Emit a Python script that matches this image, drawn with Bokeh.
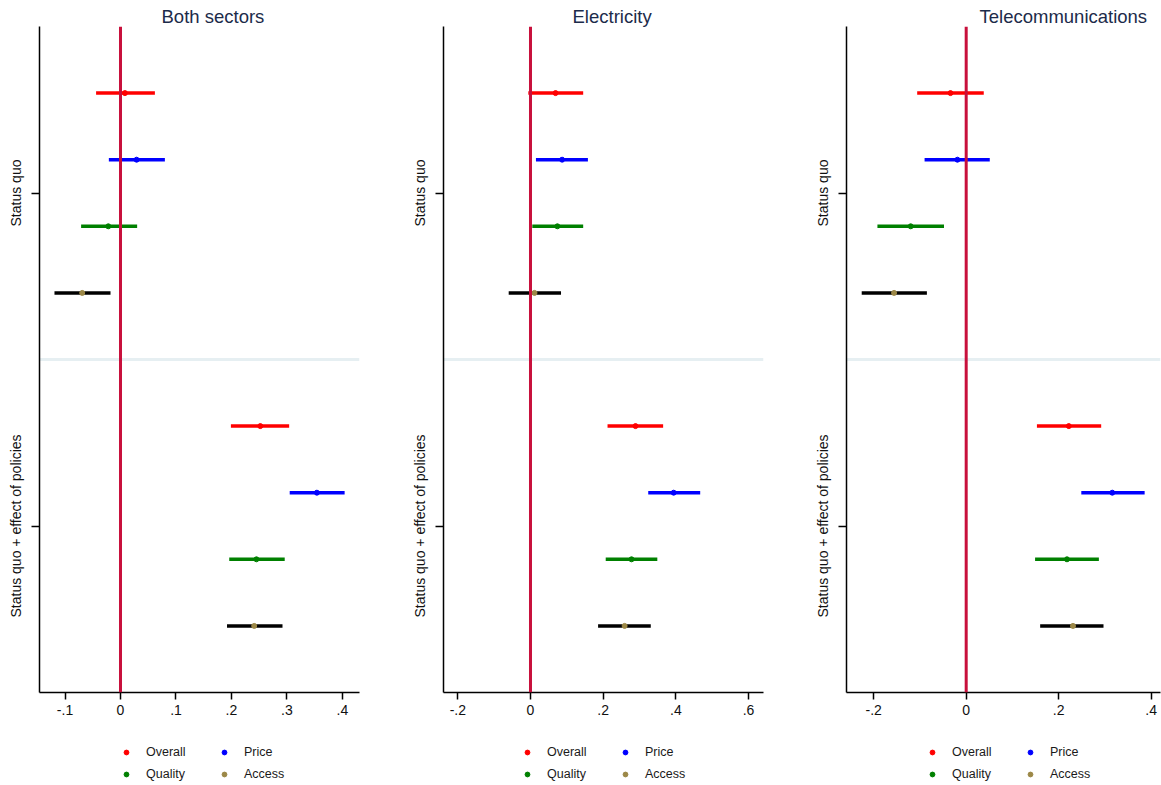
from bokeh.plotting import figure
from bokeh.layouts import row, column
from bokeh.models import Range1d, FixedTicker, Span, Legend, LegendItem
from bokeh.embed import file_html
from bokeh.resources import INLINE

FONT = "Liberation Sans"

# ---- data ----
categories = ["Overall", "Price", "Quality", "Access"]
groups = ["Status quo", "Status quo + effect of policies"]
panel_titles = ["Both sectors", "Electricity", "Telecommunications"]

# order: Status quo (Overall, Price, Quality, Access), then Status quo + effect of policies
both_est = [0.008, 0.029, -0.022, -0.069, 0.252, 0.354, 0.245, 0.241]
both_lo = [-0.044, -0.021, -0.071, -0.119, 0.199, 0.305, 0.196, 0.192]
both_hi = [0.062, 0.080, 0.030, -0.018, 0.304, 0.404, 0.296, 0.292]

elec_est = [0.069, 0.087, 0.074, 0.011, 0.289, 0.394, 0.278, 0.259]
elec_lo = [-0.006, 0.015, 0.005, -0.060, 0.212, 0.324, 0.207, 0.186]
elec_hi = [0.145, 0.158, 0.145, 0.084, 0.365, 0.467, 0.349, 0.331]

tel_est = [-0.034, -0.019, -0.120, -0.156, 0.222, 0.316, 0.218, 0.231]
tel_lo = [-0.106, -0.090, -0.192, -0.226, 0.153, 0.249, 0.149, 0.160]
tel_hi = [0.038, 0.051, -0.048, -0.085, 0.292, 0.386, 0.287, 0.297]

both_ticks = [-0.1, 0.0, 0.1, 0.2, 0.3, 0.4]
both_tick_labels = ["-.1", "0", ".1", ".2", ".3", ".4"]
elec_ticks = [-0.2, 0.0, 0.2, 0.4, 0.6]
elec_tick_labels = ["-.2", "0", ".2", ".4", ".6"]
tel_ticks = [-0.2, 0.0, 0.2, 0.4]
tel_tick_labels = ["-.2", "0", ".2", ".4"]

line_colors = ["#ff0000", "#0000ff", "#008000", "#000000"]
point_colors = ["#ff0000", "#0000ff", "#008000", "#9c8847"]

MAIN_H = 730
LEG_H = 55


def make_panel(title, est, lo, hi, xr, ticks, tick_labels, width, left, right,
               title_offset, legend_x):
    p = figure(width=width, height=MAIN_H, x_range=Range1d(*xr),
               y_range=Range1d(10, 0), output_backend="svg",
               toolbar_location=None, min_border_left=left,
               min_border_right=right, min_border_top=26,
               min_border_bottom=MAIN_H - 692)
    p.outline_line_color = None
    p.grid.visible = False
    p.background_fill_color = "white"

    p.add_layout(Span(location=5, dimension="width", line_color="#e6eff2",
                      line_width=3, level="underlay"))

    n = len(categories)
    for c, cat in enumerate(categories):
        idx = [g * n + c for g in range(len(groups))]
        ys = [g * (n + 1) + c + 1 for g in range(len(groups))]
        p.segment(x0=[lo[i] for i in idx], y0=ys, x1=[hi[i] for i in idx],
                  y1=ys, line_color=line_colors[c], line_width=3.5)
        p.scatter(x=[est[i] for i in idx], y=ys, size=5,
                  fill_color=point_colors[c], line_color=point_colors[c])

    p.add_layout(Span(location=0, dimension="height", line_color="#c8103c",
                      line_width=3))

    # x axis
    xa = p.xaxis[0]
    xa.ticker = FixedTicker(ticks=ticks)
    xa.major_label_overrides = {t: l for t, l in zip(ticks, tick_labels)}
    xa.minor_tick_line_color = None
    xa.major_tick_in = 0
    xa.major_tick_out = 7
    xa.major_tick_line_width = 1.5
    xa.axis_line_width = 1.5
    xa.major_label_standoff = 5
    xa.major_label_text_font = FONT
    xa.major_label_text_font_size = "14px"
    xa.major_label_text_color = "#111111"

    # y axis
    ya = p.yaxis[0]
    gticks = [g * (n + 1) + (n + 1) / 2 for g in range(len(groups))]
    ya.ticker = FixedTicker(ticks=gticks)
    ya.major_label_overrides = {t: l for t, l in zip(gticks, groups)}
    ya.minor_tick_line_color = None
    ya.major_tick_in = 0
    ya.major_tick_out = 8
    ya.major_tick_line_width = 1.5
    ya.axis_line_width = 1.5
    ya.major_label_orientation = "vertical"
    ya.major_label_standoff = 8
    ya.major_label_text_font = FONT
    ya.major_label_text_font_size = "14px"
    ya.major_label_text_color = "#111111"

    # title
    p.title.text = title
    p.title.align = "left"
    p.title.offset = title_offset
    p.title.standoff = 0
    p.title.text_font = FONT
    p.title.text_font_size = "18.5px"
    p.title.text_font_style = "normal"
    p.title.text_color = "#1c2b4a"

    # legend strip below the panel (its points lie outside its own ranges)
    lf = figure(width=width, height=LEG_H, x_range=Range1d(-3, -2),
                y_range=Range1d(20, 21), output_backend="svg",
                toolbar_location=None, x_axis_type=None, y_axis_type=None,
                min_border_left=0, min_border_right=0, min_border_top=0,
                min_border_bottom=0)
    lf.outline_line_color = None
    lf.grid.visible = False
    leg_renderers = []
    for c in range(n):
        idx = [g * n + c for g in range(len(groups))]
        ys = [g * (n + 1) + c + 1 for g in range(len(groups))]
        r = lf.scatter(x=[est[i] for i in idx], y=ys, size=5,
                       fill_color=point_colors[c], line_color=point_colors[c])
        leg_renderers.append(r)
    legend = Legend(
        items=[LegendItem(label=cat, renderers=[r])
               for cat, r in zip(categories, leg_renderers)],
        orientation="horizontal", ncols=2, location=(legend_x, 1),
        glyph_width=12, glyph_height=12, label_standoff=14, label_width=70,
        label_height=20, spacing=2, padding=0, margin=0,
        label_text_font=FONT, label_text_font_size="12.5px",
        label_text_color="#1a1a1a", background_fill_alpha=0,
        border_line_alpha=0, click_policy="none")
    lf.add_layout(legend, "center")
    return column(p, lf, spacing=0)


c1 = make_panel(panel_titles[0], both_est, both_lo, both_hi, (-0.1460, 0.4308),
                both_ticks, both_tick_labels, 404, 39, 45, 122, 81)
c2 = make_panel(panel_titles[1], elec_est, elec_lo, elec_hi, (-0.2394, 0.6412),
                elec_ticks, elec_tick_labels, 403, 39, 44, 129, 78)
c3 = make_panel(panel_titles[2], tel_est, tel_lo, tel_hi, (-0.2589, 0.4203),
                tel_ticks, tel_tick_labels, 354, 39, 1, 133, 80)

layout = row(c1, c2, c3, spacing=0)
open("out.html", "w").write(file_html(layout, INLINE))
